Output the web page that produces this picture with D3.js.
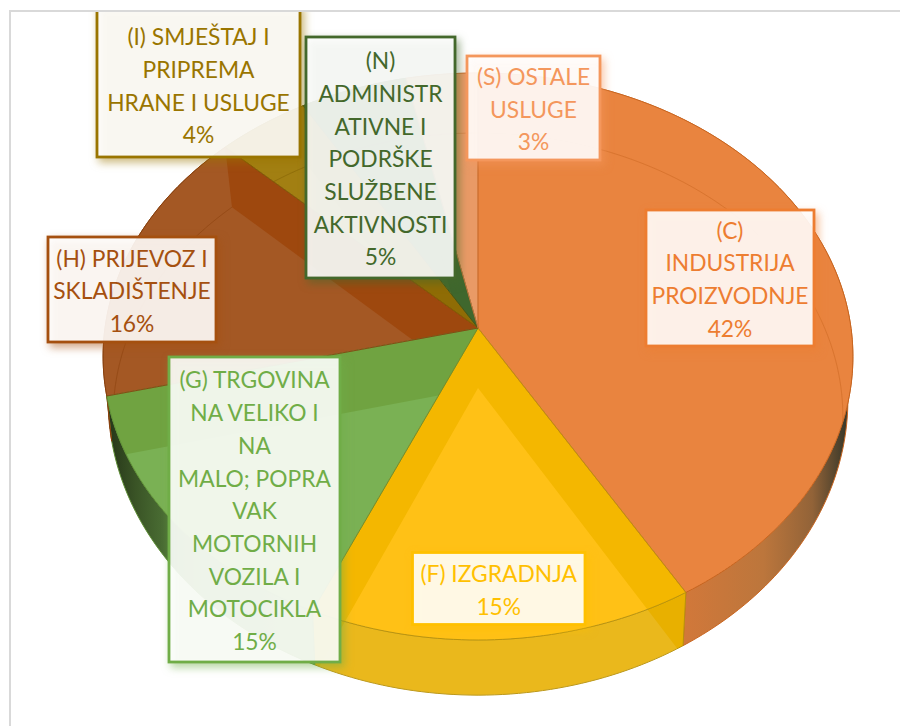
<!DOCTYPE html>
<html><head><meta charset="utf-8">
<script src="https://cdn.jsdelivr.net/npm/d3@7/dist/d3.min.js"></script>
<style>html,body{margin:0;padding:0;background:#fff}svg{display:block}
text{font-family:Lato,"Noto Sans",sans-serif}</style></head><body>
<div id="c"></div>
<script>
// --- data ---
const categories = ["C","F","G","H","I","N","S"];
const values = [41.5,15.1,14.6,15.9,4.4,5.1,3.4];
const labelLines = [
  ["(C)","INDUSTRIJA","PROIZVODNJE"],
  ["(F) IZGRADNJA"],
  ["(G) TRGOVINA","NA VELIKO I","NA","MALO; POPRA","VAK","MOTORNIH","VOZILA I","MOTOCIKLA"],
  ["(H) PRIJEVOZ I","SKLADIŠTENJE"],
  ["(I) SMJEŠTAJ I","PRIPREMA","HRANE I USLUGE"],
  ["(N)","ADMINISTR","ATIVNE I","PODRŠKE","SLUŽBENE","AKTIVNOSTI"],
  ["(S) OSTALE","USLUGE"]
];
// --- styles ---
const faceColors  = ["#E9843F","#FFC116","#7AB154","#A45824","#A27F12","#44692C","#E99A66"];
const bevelColors = ["#E9843F","#F4B700","#70A341","#9E480E","#8F6C05","#3F672D","#E99A66"];
const edgeColors  = ["#C9651F","#B8920C","#5E8F35","#8A3F0C","#7F6004","#36561F","#D0763A"];
const textColors  = ["#ED7D31","#FFC000","#70AD47","#A5500F","#9A7500","#43682B","#F4975C"];
// --- layout: x0,y0,x1,y1 of the label boxes ---
const boxes = [[646,210,814,346],[412.5,552.5,585,624.5],[169,357,340,662],[48,237,216,342],[97,5,300,157],[306,37,455,278],[467,56,600,160]];
const W=900,H=726,k=0.1005;
// projections of the pie's circles
const frames = {
  top:   {cx:478,cy:328,a:280.6,b:373},
  inner: {cx:478,cy:388,a:280.6,b:363},
  floor: {cx:478,cy:370.5,a:292,b:368}
};
function project(f,t){const s=1/(1+k*Math.cos(t));return [f.cx+f.b*Math.sin(t)*s,f.cy-f.a*Math.cos(t)*s];}
const arcPts=(f,t0,t1)=>{const n=Math.max(2,Math.ceil(Math.abs(t1-t0)/0.02));return d3.range(n+1).map(i=>project(f,t0+(t1-t0)*i/n));};
const line=d3.line();
const apex=f=>[f.cx,f.cy];
const wedge=(f,d)=>line([apex(f),...arcPts(f,d.startAngle,d.endAngle)])+"Z";

const arcs=d3.pie().sort(null).value(d=>d)(values);
const svg=d3.select("#c").append("svg").attr("width",W).attr("height",H);
const defs=svg.append("defs");
defs.append("clipPath").attr("id","frame").append("rect").attr("x",11).attr("y",12).attr("width",W).attr("height",H);
function grad(id,stops,x1,x2){const g=defs.append("linearGradient").attr("id",id).attr("gradientUnits","userSpaceOnUse").attr("x1",x1).attr("x2",x2).attr("y1",0).attr("y2",0);
  stops.forEach(s=>g.append("stop").attr("offset",s[0]).attr("stop-color",s[1]));}
grad("w0",[[0,"#D2783A"],[.5,"#BC763C"],[.8,"#926338"],[1,"#3D3A2A"]],682,845);
grad("w2",[[0,"#263619"],[.12,"#3A5426"],[.4,"#5F8F45"],[1,"#6FA347"]],108,340);
const wallFill=["url(#w0)","#E8B000","url(#w2)","#3A3216","#8F6C05","#3F672D","#C87838"];

// frame
svg.append("path").attr("d","M10,726V11H900").attr("fill","none").attr("stroke","#D9D9D9").attr("stroke-width",2);
const root=svg.append("g").attr("clip-path","url(#frame)");

// side wall
const wall=d=>line([...arcPts(frames.top,d.startAngle,d.endAngle),...arcPts(frames.floor,d.endAngle,d.startAngle)])+"Z";
arcs.forEach((d,i)=>defs.append("clipPath").attr("id","wc"+i).append("path").attr("d",wall(d)));
arcs.forEach((d,i)=>defs.append("clipPath").attr("id","tc"+i).append("path").attr("d",wedge(frames.top,d)));
const walls=root.append("g");
arcs.forEach((d,i)=>{
  walls.append("path").attr("d",wall(d)).attr("fill",wallFill[i]).attr("stroke",edgeColors[i]).attr("stroke-width",1);
});
// lighter inner part of the yellow slice carries over onto its wall
walls.append("path").attr("d",wedge(frames.inner,arcs[1])).attr("clip-path","url(#wc1)").attr("fill","#fff").attr("fill-opacity",.11);
// top face
const faces=root.append("g");
arcs.forEach((d,i)=>{
  const g=faces.append("g").attr("clip-path",`url(#tc${i})`);
  g.append("path").attr("d",wedge(frames.top,d)).attr("fill",faceColors[i]);
  [d.startAngle,d.endAngle].forEach(t=>{
    g.append("path").attr("fill",bevelColors[i])
     .attr("d",line([apex(frames.top),project(frames.top,t),project(frames.inner,t),apex(frames.inner)])+"Z");
  });
  g.append("path").attr("d",line(arcPts(frames.inner,d.startAngle,d.endAngle))).attr("fill","none").attr("stroke",edgeColors[i]).attr("stroke-opacity",.5).attr("stroke-width",1);
});
arcs.forEach((d,i)=>faces.append("path").attr("d",wedge(frames.top,d)).attr("fill","none").attr("stroke",edgeColors[i]).attr("stroke-width",1).attr("stroke-opacity",.85));

// labels
const lh=32.7;
const labels=root.append("g");
[4,5,6,0,3,2,1].forEach(i=>{
  const b=boxes[i],lines=[...labelLines[i],Math.round(values[i])+"%"];
  const g=labels.append("g");
  g.append("rect").attr("x",b[0]).attr("y",b[1]).attr("width",b[2]-b[0]).attr("height",b[3]-b[1])
   .attr("fill","#fff").attr("fill-opacity",.89).attr("stroke",textColors[i]).attr("stroke-width",2.8)
   .style("filter",`drop-shadow(3px 4px 4px ${d3.color(textColors[i]).copy({opacity:.55})})`);
  const cx=(b[0]+b[2])/2, cy=(Math.max(b[1],12)+b[3])/2+1.5;
  lines.forEach((s,j)=>g.append("text").attr("x",cx).attr("y",cy+(j-(lines.length-1)/2)*lh).attr("dy","0.36em")
    .attr("text-anchor","middle").attr("font-size",22.8).attr("fill",textColors[i]).text(s));
});
</script></body></html>
